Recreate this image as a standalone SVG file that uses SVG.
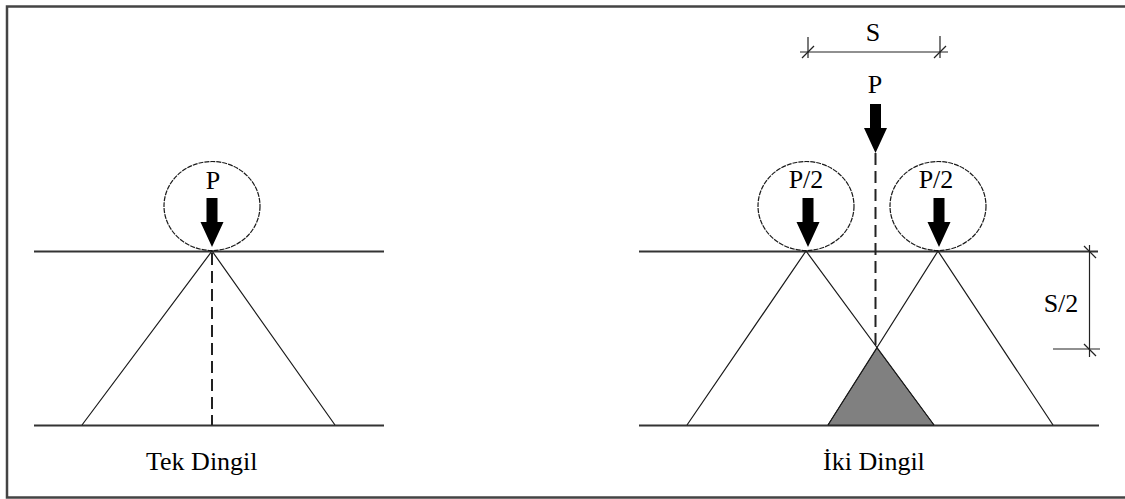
<svg xmlns="http://www.w3.org/2000/svg" width="1125" height="499" viewBox="0 0 1125 499">
<style>
.t{font-family:"Liberation Serif","Times New Roman",serif;font-size:26px;fill:#000;}
.ground{stroke:#333;stroke-width:2;fill:none;}
.thin{stroke:#1a1a1a;stroke-width:1.2;fill:none;}
.dash{stroke:#222;stroke-width:2;fill:none;stroke-dasharray:12 6;}
.wheel{stroke:#1a1a1a;stroke-width:1.2;fill:none;stroke-dasharray:5 1;}
.dim{stroke:#222;stroke-width:1.2;fill:none;}
.arrow{fill:#000;}
</style>
<defs>
<path id="arr" d="M-5.5,-49 H5.5 V-25 H11.5 L0,0 L-11.5,-25 H-5.5 Z"/>
</defs>
<rect width="1125" height="499" fill="#fff"/>
<path d="M1125,6.5 H7 V497.5 H1125" fill="none" stroke="#444" stroke-width="2.5"/>

<g id="tek-dingil">
  <line class="ground" x1="34" y1="251.5" x2="384" y2="251.5"/>
  <line class="ground" x1="34" y1="425.5" x2="384" y2="425.5"/>
  <polyline class="thin" points="82,425 212,251 335,425"/>
  <line class="dash" x1="212" y1="253" x2="212" y2="425"/>
  <ellipse class="wheel" cx="212" cy="206" rx="48" ry="44.5"/>
  <use href="#arr" class="arrow" x="212" y="247"/>
  <text class="t" x="213" y="189" text-anchor="middle">P</text>
  <text class="t" x="146" y="470">Tek Dingil</text>
</g>

<g id="iki-dingil">
  <line class="ground" x1="639" y1="251.5" x2="1098" y2="251.5"/>
  <line class="ground" x1="639" y1="425.5" x2="1099" y2="425.5"/>
  <polygon points="877,348 828,425 934,425" fill="#808080" stroke="#222" stroke-width="1"/>
  <polyline class="thin" points="687,425 806,251 934,425"/>
  <polyline class="thin" points="828,425 938,251 1053,425"/>
  <line class="dash" x1="875.5" y1="153" x2="875.5" y2="348"/>
  <ellipse class="wheel" cx="806" cy="206" rx="48" ry="44.5"/>
  <ellipse class="wheel" cx="938" cy="206" rx="48" ry="44.5"/>
  <use href="#arr" class="arrow" x="808" y="247"/>
  <use href="#arr" class="arrow" x="939" y="247"/>
  <use href="#arr" class="arrow" x="875.5" y="153"/>
  <text class="t" x="875" y="93" text-anchor="middle">P</text>
  <text class="t" x="806" y="188" text-anchor="middle">P/2</text>
  <text class="t" x="936" y="188" text-anchor="middle">P/2</text>
  <text class="t" x="823" y="470">İki Dingil</text>
</g>

<g id="dim-s">
  <line class="dim" x1="800" y1="52" x2="948" y2="52"/>
  <line class="dim" x1="808" y1="37" x2="808" y2="58"/>
  <line class="dim" x1="940" y1="36" x2="940" y2="58"/>
  <line class="dim" x1="802" y1="58" x2="814" y2="46"/>
  <line class="dim" x1="934" y1="58" x2="946" y2="46"/>
  <text class="t" x="873" y="41" text-anchor="middle">S</text>
</g>

<g id="dim-s2">
  <line class="dim" x1="1089.5" y1="245" x2="1089.5" y2="357"/>
  <line class="dim" x1="1053" y1="349" x2="1100" y2="349"/>
  <line class="dim" x1="1084" y1="246" x2="1096" y2="258"/>
  <line class="dim" x1="1084" y1="344" x2="1096" y2="356"/>
  <text class="t" x="1061" y="312" text-anchor="middle">S/2</text>
</g>
</svg>
